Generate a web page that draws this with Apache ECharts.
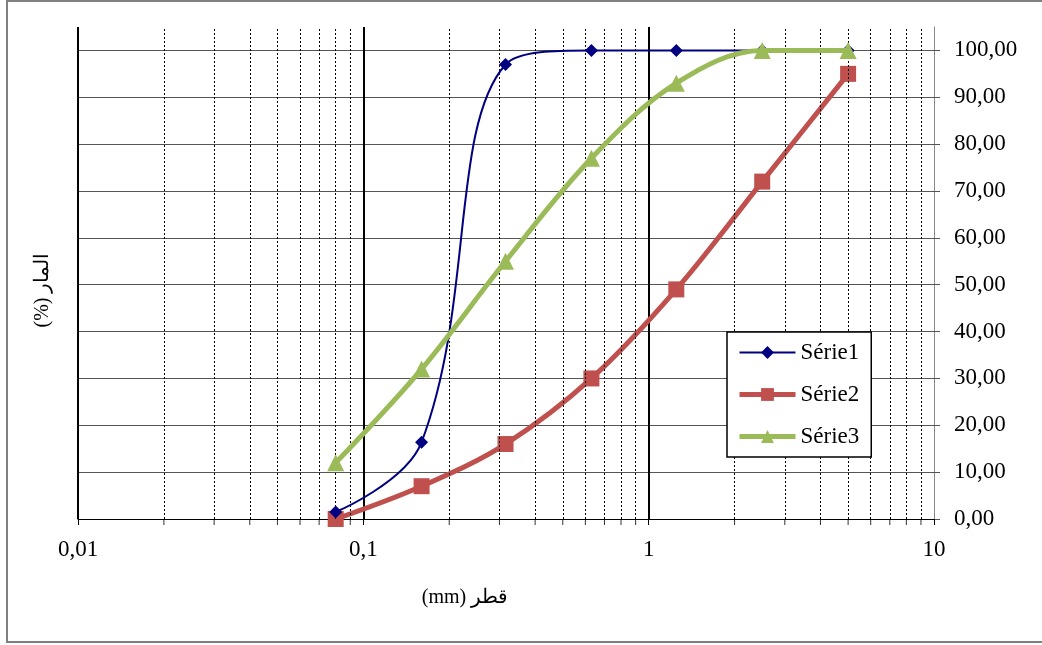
<!DOCTYPE html>
<html>
<head>
<meta charset="utf-8">
<script src="https://cdn.jsdelivr.net/npm/echarts@6/dist/echarts.min.js"></script>
<style>html,body{margin:0;padding:0;background:#fff}#c{width:1042px;height:645px}</style>
</head>
<body>
<div id="c"></div>
<script>
var sieveSizes = [0.08, 0.16, 0.315, 0.63, 1.25, 2.5, 5];
var serie1 = [1.5, 16.4, 97.0, 100, 100, 100, 100];
var serie2 = [0, 7, 16, 30, 49, 72, 95];
var serie3 = [12, 32, 55, 77, 93, 100, 100];
var seriesNames = ['Série1', 'Série2', 'Série3'];
var xTickLabels = ['0,01', '0,1', '1', '10'];
var minorValues = [0.02,0.03,0.04,0.05,0.06,0.07,0.08,0.09,0.2,0.3,0.4,0.5,0.6,0.7,0.8,0.9,2,3,4,5,6,7,8,9];
var xTitle = '(mm) قطر';
var yTitle = '(%) المار';

var FONT = "'Liberation Serif','Times New Roman','DejaVu Serif',serif";
var COLORS = ['#000080', '#C0504D', '#9BBB59'];
var WIDTHS = [2, 5, 5];
function pts(ys){ return sieveSizes.map(function(x,i){ return [x, ys[i]]; }); }

var chart = echarts.init(document.getElementById('c'), null, {renderer:'canvas'});
chart.setOption({
  animation: false,
  backgroundColor: '#fff',
  textStyle: {fontFamily: FONT},
  grid: {left: 78, right: 108, top: 27, bottom: 126, containLabel: false},
  xAxis: {
    type: 'log', logBase: 10, min: 0.01, max: 10,
    axisLine: {show: true, lineStyle: {color: '#000', width: 1}},
    axisTick: {show: true, length: 6, lineStyle: {color: '#000'}},
    axisLabel: {margin: 19, color: '#000', fontSize: 23, fontFamily: FONT,
      formatter: function(v, i){ return xTickLabels[i] !== undefined ? xTickLabels[i] : String(v).replace('.', ','); }},
    splitLine: {show: true, showMaxLine: false, lineStyle: {color: '#000', width: 2}},
    minorTick: {show: false}, minorSplitLine: {show: false}
  },
  yAxis: {
    type: 'value', position: 'right', min: 0, max: 105, interval: 10,
    axisLine: {show: true, lineStyle: {color: '#888', width: 1}},
    axisTick: {show: true, inside: false, length: 6, lineStyle: {color: '#555'}},
    axisLabel: {margin: 20, color: '#000', fontSize: 23, fontFamily: FONT, showMaxLabel: false,
      formatter: function(v){ return v > 100 ? '' : v.toFixed(2).replace('.', ','); }},
    splitLine: {show: true, showMinLine: false, showMaxLine: false, lineStyle: {color: '#555', width: 1}}
  },
  legend: {
    orient: 'vertical', left: 727, top: 332,
    data: seriesNames.map(function(n, i){ return {name: n, lineStyle: {width: WIDTHS[i], color: COLORS[i]}}; }),
    itemWidth: 56, itemHeight: 16, itemGap: 19,
    padding: [9, 12, 9, 10],
    borderColor: '#000', borderWidth: 1.5, backgroundColor: '#fff',
    textStyle: {fontSize: 23, color: '#000', fontFamily: FONT},
    z: 10
  },
  graphic: [
    {type: 'rect', shape: {x: 7, y: 1, width: 1040, height: 641}, style: {fill: 'none', stroke: '#808080', lineWidth: 2}, silent: true, z: 0},
    {type: 'text', x: 465, y: 598, style: {text: xTitle, fontSize: 20, fontFamily: FONT, fill: '#000', align: 'center', verticalAlign: 'middle'}, silent: true},
    {type: 'text', x: 43, y: 290, rotation: Math.PI/2, style: {text: yTitle, fontSize: 20, fontFamily: FONT, fill: '#000', align: 'center', verticalAlign: 'middle'}, silent: true}
  ],
  series: [
    {
      name: '_minor', type: 'scatter', data: minorValues.map(function(v){ return [v, 0]; }),
      symbol: 'rect', symbolSize: [1, 6], symbolOffset: [0, 3], clip: false, silent: true, z: 1,
      itemStyle: {color: '#000'},
      markLine: {
        silent: true, symbol: ['none', 'none'], label: {show: false},
        lineStyle: {type: [2, 2], color: '#000', width: 1},
        data: minorValues.map(function(v){ return {xAxis: v}; }),
        animation: false
      }
    },
    {
      name: seriesNames[0], type: 'line', data: pts(serie1), smooth: 0.4,
      symbol: 'diamond', symbolSize: 13, lineStyle: {color: COLORS[0], width: WIDTHS[0]},
      itemStyle: {color: COLORS[0]}, z: 5
    },
    {
      name: seriesNames[1], type: 'line', data: pts(serie2), smooth: 0.35,
      symbol: 'rect', symbolSize: 16, lineStyle: {color: COLORS[1], width: WIDTHS[1]},
      itemStyle: {color: COLORS[1]}, z: 4
    },
    {
      name: seriesNames[2], type: 'line', data: pts(serie3), smooth: 0.35,
      symbol: 'triangle', symbolSize: 17, lineStyle: {color: COLORS[2], width: WIDTHS[2]},
      itemStyle: {color: COLORS[2]}, z: 6
    }
  ]
});
</script>
</body>
</html>
